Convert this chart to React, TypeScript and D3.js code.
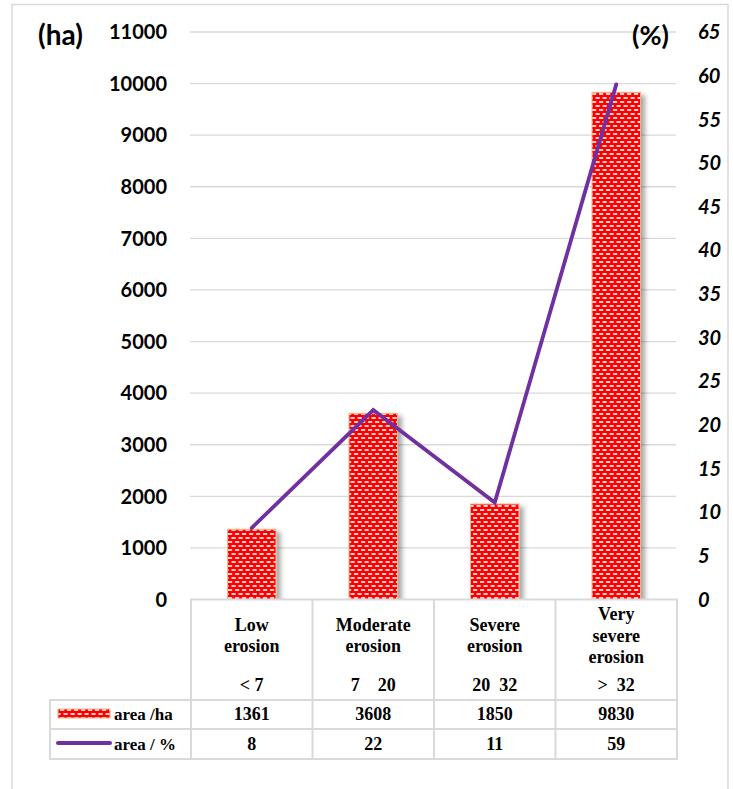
import React from "react";
import * as d3 from "d3";

const categories: string[][] = [["Low", "erosion"], ["Moderate", "erosion"], ["Severe", "erosion"], ["Very", "severe", "erosion"]];
const ranges = ["< 7", "7    20", "20  32", ">  32"];
const areaHa = [1361, 3608, 1850, 9830];
const areaPct = [8.2, 21.7, 11.1, 59.0];
const pctLabels = ["8", "22", "11", "59"];
const leftTicks = [0, 1000, 2000, 3000, 4000, 5000, 6000, 7000, 8000, 9000, 10000, 11000];
const rightTicks = [0, 5, 10, 15, 20, 25, 30, 35, 40, 45, 50, 55, 60, 65];

const W = 733, H = 789;
const GRID = "#D9D9D9";
const PURPLE = "#7030A0";
const SANS = "Lato, 'Open Sans', sans-serif";
const SERIF = "'Liberation Serif', 'Times New Roman', serif";

export default function App() {
  const x = d3.scaleBand<number>().domain(d3.range(4)).range([191, 677]).paddingInner(0).paddingOuter(0);
  const yL = d3.scaleLinear().domain([0, 11000]).range([599.5, 32]);
  const yR = d3.scaleLinear().domain([0, 65]).range([599.5, 32]);
  const barW = 48.5;
  const line = d3.line<number>().x((_, i) => x(i)! + x.bandwidth() / 2).y((d) => yR(d));

  const tableTop = 599.5, catBottom = 700, row1Bottom = 729, row2Bottom = 759;
  const tableLeft = 50;

  return (
    <svg width={W} height={H} style={{ position: "absolute", left: 0, top: 0, display: "block" }}>
      <defs>
        <pattern id="brick" patternUnits="userSpaceOnUse" width={7} height={8}>
          <rect x={0} y={0} width={7} height={8} fill="#FF0000" />
          <rect x={0.5} y={1.2} width={4.2} height={1.6} fill="#ffffff" />
          <rect x={4} y={5.2} width={4.2} height={1.6} fill="#ffffff" />
          <rect x={-3} y={5.2} width={4.2} height={1.6} fill="#ffffff" />
        </pattern>
        <filter id="shadow" x="-30%" y="-10%" width="160%" height="120%">
          <feDropShadow dx={4} dy={3} stdDeviation={2.5} floodColor="#000" floodOpacity={0.35} />
        </filter>
      </defs>
      <rect x={0} y={0} width={W} height={H} fill="#fff" />
      <rect x={12} y={4.5} width={716} height={800} fill="#fff" stroke={GRID} strokeWidth={1.5} />

      {/* gridlines */}
      {leftTicks.filter((t) => t > 0).map((t) => (
        <line key={t} x1={190} x2={676} y1={yL(t)} y2={yL(t)} stroke={GRID} strokeWidth={1.3} />
      ))}

      {/* left axis labels */}
      {leftTicks.map((t) => (
        <text key={t} x={167} y={yL(t)} dy="0.36em" textAnchor="end" fontFamily={SANS} fontWeight={700} fontSize={20} fill="#000">
          {t}
        </text>
      ))}
      <text x={38} y={35} dy="0.36em" fontFamily={SANS} fontWeight={700} fontSize={28} fill="#000">(ha)</text>

      {/* right axis labels */}
      {rightTicks.map((t) => (
        <text key={t} x={698} y={yR(t)} dy="0.36em" textAnchor="start" fontFamily={SANS} fontWeight={700} fontStyle="italic" fontSize={20} fill="#000">
          {t}
        </text>
      ))}
      <text x={632} y={35} dy="0.36em" fontFamily={SANS} fontWeight={700} fontSize={27} fill="#000">(%)</text>

      {/* bars */}
      {areaHa.map((v, i) => {
        const cx = x(i)! + x.bandwidth() / 2;
        return (
          <rect key={i} x={cx - barW / 2} y={yL(v)} width={barW} height={yL(0) - yL(v)} fill="url(#brick)" stroke="#F4B183" strokeWidth={1} filter="url(#shadow)" />
        );
      })}

      {/* line */}
      <path d={line(areaPct) || ""} fill="none" stroke={PURPLE} strokeWidth={3.8} strokeLinejoin="miter" strokeLinecap="round" />

      {/* data table */}
      <g stroke={GRID} strokeWidth={2} fill="none">
        <rect x={x(0)!} y={tableTop} width={x(3)! + x.bandwidth() - x(0)!} height={catBottom - tableTop} fill="#fff" />
        <rect x={tableLeft} y={catBottom} width={x(3)! + x.bandwidth() - tableLeft} height={row2Bottom - catBottom} fill="#fff" />
        <line x1={tableLeft} x2={x(3)! + x.bandwidth()} y1={row1Bottom} y2={row1Bottom} />
        {d3.range(1, 4).map((i) => (
          <line key={i} x1={x(i)!} x2={x(i)!} y1={tableTop} y2={row2Bottom} />
        ))}
        <line x1={x(0)!} x2={x(0)!} y1={catBottom} y2={row2Bottom} />
      </g>

      {categories.map((lines, i) => {
        const cx = x(i)! + x.bandwidth() / 2;
        const start = lines.length === 3 ? 620 : 630.5;
        return (
          <g key={i}>
            {lines.map((s, j) => (
              <text key={j} x={cx} y={start + j * 21.5} textAnchor="middle" fontFamily={SERIF} fontWeight={700} fontSize={18} fill="#000">{s}</text>
            ))}
            <text x={cx} y={690.5} textAnchor="middle" fontFamily={SERIF} fontWeight={700} fontSize={18} fill="#000" style={{ whiteSpace: "pre" }}>{ranges[i]}</text>
          </g>
        );
      })}

      {areaHa.map((v, i) => (
        <text key={i} x={x(i)! + x.bandwidth() / 2} y={720} textAnchor="middle" fontFamily={SERIF} fontWeight={700} fontSize={18} fill="#000">{v}</text>
      ))}
      {pctLabels.map((v, i) => (
        <text key={i} x={x(i)! + x.bandwidth() / 2} y={749.5} textAnchor="middle" fontFamily={SERIF} fontWeight={700} fontSize={18} fill="#000">{v}</text>
      ))}

      {/* legend keys */}
      <rect x={58} y={709} width={52} height={9} fill="url(#brick)" stroke="#F4B183" strokeWidth={1} />
      <text x={114} y={720} fontFamily={SERIF} fontWeight={700} fontSize={17} fill="#000">area /ha</text>
      <line x1={58} x2={110} y1={743} y2={743} stroke={PURPLE} strokeWidth={4} strokeLinecap="round" />
      <text x={114} y={749.5} fontFamily={SERIF} fontWeight={700} fontSize={17} fill="#000">area / %</text>
    </svg>
  );
}
